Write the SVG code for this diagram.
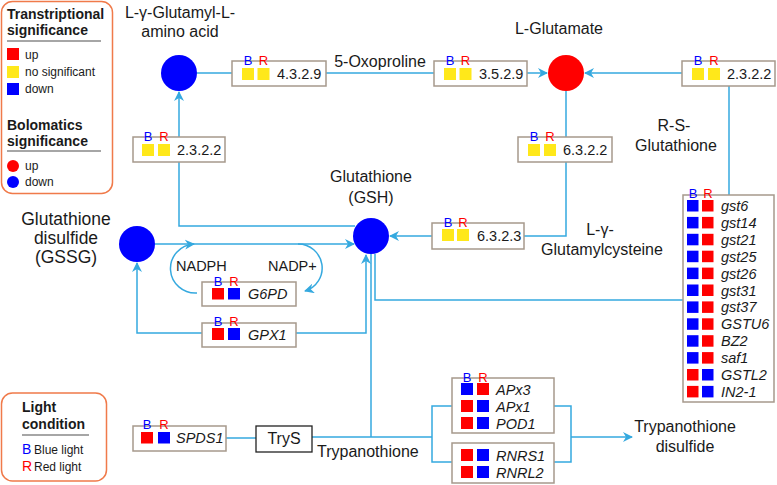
<svg xmlns="http://www.w3.org/2000/svg" width="777" height="485" viewBox="0 0 777 485">
<defs>
<marker id="arr" viewBox="0 0 10 10" refX="9" refY="5" markerWidth="10" markerHeight="10" markerUnits="userSpaceOnUse" orient="auto">
<path d="M0,0 L10,5 L0,10 L3,5 z" fill="#35A9DF"/>
</marker>
</defs>
<style>
text{font-family:"Liberation Sans",Arial,sans-serif;fill:#1a1a1a}
.lbl{font-size:16px;text-anchor:middle}
.big{font-size:17.5px;text-anchor:middle}
.num{font-size:14.5px}
.gene{font-size:14.5px;font-style:italic}
.b{font-size:13px;fill:#0000FF;text-anchor:middle}
.r{font-size:13px;fill:#FF0000;text-anchor:middle}
.box{fill:#fff;stroke:#A6998C;stroke-width:1.5}
.y{fill:#FFE81A}
.rd{fill:#FF0000}
.bl{fill:#0000FF}
.ln{fill:none;stroke:#35A9DF;stroke-width:1.5}
.leg{fill:#fff;stroke:#F07A4A;stroke-width:1.5}
.lt{font-size:12px}
.lh{font-size:14px;font-weight:bold}
</style>

<g id="legend-significance">
<rect class="leg" x="1.5" y="1.5" width="111" height="192" rx="11"/>
<text class="lh" x="7" y="19">Transtriptional</text>
<text class="lh" x="7" y="35">significance</text>
<line x1="7" y1="41" x2="101" y2="41" stroke="#888" stroke-width="1.5"/>
<rect class="rd" x="7" y="48" width="12" height="12"/><text class="lt" x="25" y="59">up</text>
<rect class="y" x="7" y="66" width="12" height="12"/><text class="lt" x="25" y="76">no significant</text>
<rect class="bl" x="7" y="83" width="12" height="12"/><text class="lt" x="25" y="93">down</text>
<text class="lh" x="7" y="130">Bolomatics</text>
<text class="lh" x="7" y="146">significance</text>
<line x1="7" y1="151" x2="101" y2="151" stroke="#888" stroke-width="1.5"/>
<circle class="rd" cx="13" cy="166" r="6"/><text class="lt" x="25" y="170">up</text>
<circle class="bl" cx="13" cy="182" r="6"/><text class="lt" x="25" y="186">down</text>
</g>

<g id="legend-light">
<rect class="leg" x="1.5" y="393" width="105" height="88" rx="11"/>
<text class="lh" x="22" y="412">Light</text>
<text class="lh" x="22" y="429">condition</text>
<line x1="22" y1="435" x2="89" y2="435" stroke="#888" stroke-width="1.5"/>
<text x="22" y="454" style="font-size:14px;fill:#0000FF">B</text><text class="lt" x="34" y="454">Blue light</text>
<text x="22" y="471" style="font-size:14px;fill:#FF0000">R</text><text class="lt" x="34" y="471">Red light</text>
</g>

<g id="connectors">
<line class="ln" x1="197" y1="73" x2="232" y2="73"/>
<line class="ln" x1="326" y1="73" x2="434" y2="73"/>
<line class="ln" x1="527" y1="73" x2="547" y2="73" marker-end="url(#arr)"/>
<line class="ln" x1="682" y1="73" x2="585" y2="73" marker-end="url(#arr)"/>
<line class="ln" x1="729" y1="86" x2="729" y2="195"/>
<line class="ln" x1="566" y1="91" x2="566" y2="137"/>
<polyline class="ln" points="566,162 566,236 524,236"/>
<line class="ln" x1="432" y1="236" x2="390" y2="236" marker-end="url(#arr)"/>
<line class="ln" x1="179" y1="137" x2="179" y2="92" marker-end="url(#arr)"/>
<polyline class="ln" points="179,162 179,226 355,226"/>
<line class="ln" x1="155" y1="244" x2="354" y2="244" marker-end="url(#arr)"/>
<path class="ln" d="M197,293 A25,24.5 0 0 1 194,244" marker-end="url(#arr)"/>
<path class="ln" d="M298,244 A24,24 0 0 1 305,291" marker-end="url(#arr)"/>
<polyline class="ln" points="202,333 137,333 137,263" marker-end="url(#arr)"/>
<polyline class="ln" points="296,333 366,333 366,255" marker-end="url(#arr)"/>
<polyline class="ln" points="312,437 432,437"/>
<line class="ln" x1="371" y1="437" x2="371" y2="254"/>
<polyline class="ln" points="683,300 375,300 375,254"/>
<polyline class="ln" points="452,406 432,406 432,462 452,462"/>
<polyline class="ln" points="554,406 571,406 571,462 554,462"/>
<line class="ln" x1="571" y1="437" x2="632" y2="437" marker-end="url(#arr)"/>
<line class="ln" x1="226" y1="438" x2="256" y2="438"/>
</g>

<g id="n-glutamyl-amino-acid">
<circle class="bl" cx="179" cy="73" r="18"/>
<text class="lbl" x="180" y="18">L-γ-Glutamyl-L-</text>
<text class="lbl" x="180" y="37">amino acid</text>
</g>

<g id="n-oxoproline"><text class="lbl" x="380" y="67">5-Oxoproline</text></g>

<g id="n-glutamate">
<circle class="rd" cx="566" cy="73" r="18"/>
<text class="lbl" x="559" y="34">L-Glutamate</text>
</g>

<g id="n-rs-glutathione">
<text class="lbl" x="674" y="131">R-S-</text>
<text class="lbl" x="676" y="151">Glutathione</text>
</g>

<g id="n-gsh">
<circle class="bl" cx="371" cy="236" r="18"/>
<text class="lbl" x="371" y="182">Glutathione</text>
<text class="lbl" x="371" y="203">(GSH)</text>
</g>

<g id="n-glutamylcysteine">
<text class="lbl" x="600" y="235">L-γ-</text>
<text class="lbl" x="602" y="255">Glutamylcysteine</text>
</g>

<g id="n-gssg">
<circle class="bl" cx="137" cy="244" r="18"/>
<text class="big" x="66" y="225">Glutathione</text>
<text class="big" x="66" y="244">disulfide</text>
<text class="big" x="66" y="263">(GSSG)</text>
</g>

<g id="n-nadph"><text style="font-size:14.5px" x="176" y="271">NADPH</text></g>
<g id="n-nadp"><text style="font-size:14.5px" x="268" y="271">NADP+</text></g>

<g id="e-4329">
<rect class="box" x="232" y="61" width="94" height="25"/>
<text class="b" x="248" y="65">B</text><text class="r" x="263.5" y="65">R</text>
<rect class="y" x="242" y="68" width="12" height="12"/><rect class="y" x="257.5" y="68" width="12" height="12"/>
<text class="num" x="277" y="79">4.3.2.9</text>
</g>

<g id="e-3529">
<rect class="box" x="434" y="61" width="93" height="25"/>
<text class="b" x="450" y="65">B</text><text class="r" x="465.5" y="65">R</text>
<rect class="y" x="444" y="68" width="12" height="12"/><rect class="y" x="459.5" y="68" width="12" height="12"/>
<text class="num" x="479" y="79">3.5.2.9</text>
</g>

<g id="e-2322-right">
<rect class="box" x="682" y="61" width="93" height="25"/>
<text class="b" x="698" y="65">B</text><text class="r" x="714" y="65">R</text>
<rect class="y" x="692" y="68" width="12" height="12"/><rect class="y" x="708" y="68" width="12" height="12"/>
<text class="num" x="727" y="79">2.3.2.2</text>
</g>

<g id="e-6322">
<rect class="box" x="518" y="137" width="94" height="25"/>
<text class="b" x="534" y="141">B</text><text class="r" x="550" y="141">R</text>
<rect class="y" x="528" y="144" width="12" height="12"/><rect class="y" x="544" y="144" width="12" height="12"/>
<text class="num" x="563" y="155">6.3.2.2</text>
</g>

<g id="e-6323">
<rect class="box" x="432" y="223" width="92" height="26"/>
<text class="b" x="448" y="227">B</text><text class="r" x="463" y="227">R</text>
<rect class="y" x="442" y="229" width="12" height="12"/><rect class="y" x="457" y="229" width="12" height="12"/>
<text class="num" x="477" y="241">6.3.2.3</text>
</g>

<g id="e-2322-left">
<rect class="box" x="133" y="137" width="92" height="25"/>
<text class="b" x="148" y="141">B</text><text class="r" x="164" y="141">R</text>
<rect class="y" x="142" y="144" width="12" height="12"/><rect class="y" x="158" y="144" width="12" height="12"/>
<text class="num" x="177" y="155">2.3.2.2</text>
</g>

<g id="e-g6pd">
<rect class="box" x="202" y="282" width="94" height="24"/>
<text class="b" x="218" y="286">B</text><text class="r" x="234" y="286">R</text>
<rect class="rd" x="212" y="288" width="12" height="11.5"/><rect class="bl" x="228" y="288" width="12" height="11.5"/>
<text class="gene" x="248" y="299">G6PD</text>
</g>

<g id="e-gpx1">
<rect class="box" x="202" y="323" width="94" height="24"/>
<text class="b" x="218" y="326">B</text><text class="r" x="234" y="326">R</text>
<rect class="rd" x="212" y="328" width="12" height="12"/><rect class="bl" x="228" y="328" width="12" height="12"/>
<text class="gene" x="248" y="340">GPX1</text>
</g>

<g id="e-spds1">
<rect class="box" x="133" y="426" width="93" height="25"/>
<text class="b" x="147" y="429">B</text><text class="r" x="164" y="429">R</text>
<rect class="rd" x="141" y="432" width="12" height="11.5"/><rect class="bl" x="158" y="432" width="12" height="11.5"/>
<text class="gene" x="176" y="443">SPDS1</text>
</g>

<g id="n-trys">
<rect x="256" y="426" width="56" height="26" fill="#fff" stroke="#222" stroke-width="1.3"/>
<text class="lbl" x="284" y="444">TryS</text>
</g>

<g id="n-trypanothione"><text style="font-size:16px" x="317" y="457">Trypanothione</text></g>
<g id="n-trypanothione-disulfide">
<text class="lbl" x="685" y="432">Trypanothione</text>
<text class="lbl" x="685" y="452">disulfide</text>
</g>

<g id="e-gst">
<rect class="box" x="683" y="195" width="91" height="207"/>
<text class="b" x="693" y="198">B</text><text class="r" x="708" y="198">R</text>
<rect class="bl" x="687" y="200" width="11.5" height="11.5"/><rect class="rd" x="702" y="200" width="11.5" height="11.5"/><text class="gene" x="721" y="211">gst6</text>
<rect class="bl" x="687" y="216.9" width="11.5" height="11.5"/><rect class="rd" x="702" y="216.9" width="11.5" height="11.5"/><text class="gene" x="721" y="227.9">gst14</text>
<rect class="bl" x="687" y="233.8" width="11.5" height="11.5"/><rect class="rd" x="702" y="233.8" width="11.5" height="11.5"/><text class="gene" x="721" y="244.8">gst21</text>
<rect class="bl" x="687" y="250.7" width="11.5" height="11.5"/><rect class="rd" x="702" y="250.7" width="11.5" height="11.5"/><text class="gene" x="721" y="261.7">gst25</text>
<rect class="bl" x="687" y="267.6" width="11.5" height="11.5"/><rect class="rd" x="702" y="267.6" width="11.5" height="11.5"/><text class="gene" x="721" y="278.6">gst26</text>
<rect class="bl" x="687" y="284.5" width="11.5" height="11.5"/><rect class="rd" x="702" y="284.5" width="11.5" height="11.5"/><text class="gene" x="721" y="295.5">gst31</text>
<rect class="bl" x="687" y="301.4" width="11.5" height="11.5"/><rect class="rd" x="702" y="301.4" width="11.5" height="11.5"/><text class="gene" x="721" y="312.4">gst37</text>
<rect class="bl" x="687" y="318.3" width="11.5" height="11.5"/><rect class="rd" x="702" y="318.3" width="11.5" height="11.5"/><text class="gene" x="721" y="329.3">GSTU6</text>
<rect class="bl" x="687" y="335.2" width="11.5" height="11.5"/><rect class="rd" x="702" y="335.2" width="11.5" height="11.5"/><text class="gene" x="721" y="346.2">BZ2</text>
<rect class="bl" x="687" y="352.1" width="11.5" height="11.5"/><rect class="rd" x="702" y="352.1" width="11.5" height="11.5"/><text class="gene" x="721" y="363.1">saf1</text>
<rect class="rd" x="687" y="369" width="11.5" height="11.5"/><rect class="bl" x="702" y="369" width="11.5" height="11.5"/><text class="gene" x="721" y="380">GSTL2</text>
<rect class="rd" x="687" y="385.9" width="11.5" height="11.5"/><rect class="bl" x="702" y="385.9" width="11.5" height="11.5"/><text class="gene" x="721" y="396.9">IN2-1</text>
</g>

<g id="e-apx">
<rect class="box" x="452" y="378" width="102" height="55"/>
<text class="b" x="467" y="382">B</text><text class="r" x="483" y="382">R</text>
<rect class="bl" x="461" y="383" width="12" height="12"/><rect class="rd" x="477" y="383" width="12" height="12"/><text class="gene" x="496" y="395">APx3</text>
<rect class="rd" x="461" y="400" width="12" height="12"/><rect class="bl" x="477" y="400" width="12" height="12"/><text class="gene" x="496" y="412">APx1</text>
<rect class="rd" x="461" y="417" width="12" height="12"/><rect class="bl" x="477" y="417" width="12" height="12"/><text class="gene" x="496" y="429">POD1</text>
</g>

<g id="e-rnr">
<rect class="box" x="452" y="443" width="102" height="40"/>
<rect class="rd" x="461" y="449" width="12" height="12"/><rect class="bl" x="477" y="449" width="12" height="12"/><text class="gene" x="496" y="461">RNRS1</text>
<rect class="rd" x="461" y="466" width="12" height="12"/><rect class="bl" x="477" y="466" width="12" height="12"/><text class="gene" x="496" y="478">RNRL2</text>
</g>
</svg>
